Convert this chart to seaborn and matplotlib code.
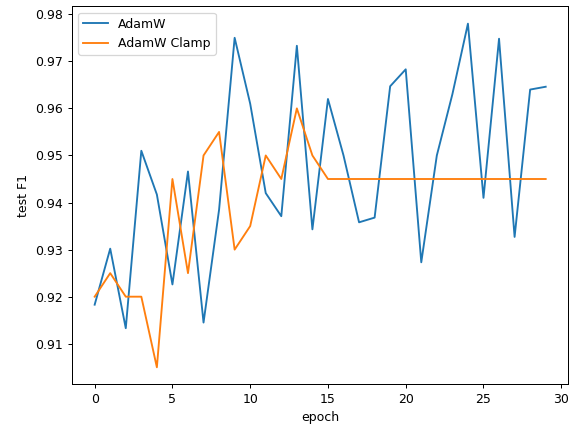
import numpy as np
import pandas as pd
import matplotlib
matplotlib.use("Agg")
import matplotlib.pyplot as plt
import seaborn as sns

# ---- data ----
epochs = list(range(30))
adamw = [0.9183, 0.9302, 0.9133, 0.9510, 0.9417, 0.9226, 0.9466, 0.9145, 0.9385, 0.9750,
         0.9610, 0.9420, 0.9371, 0.9733, 0.9343, 0.9620, 0.9500, 0.9358, 0.9368, 0.9647,
         0.9683, 0.9273, 0.9500, 0.9630, 0.9780, 0.9410, 0.9748, 0.9327, 0.9640, 0.9646]
adamw_clamp = [0.920, 0.925, 0.920, 0.920, 0.905, 0.945, 0.925, 0.950, 0.955, 0.930,
               0.935, 0.950, 0.945, 0.960, 0.950, 0.945, 0.945, 0.945, 0.945, 0.945,
               0.945, 0.945, 0.945, 0.945, 0.945, 0.945, 0.945, 0.945, 0.945, 0.945]

df = pd.DataFrame({
    "epoch": epochs * 2,
    "test F1": adamw + adamw_clamp,
    "optimizer": ["AdamW"] * 30 + ["AdamW Clamp"] * 30,
})

fig, ax = plt.subplots(figsize=(6.41, 4.8), dpi=90)
sns.lineplot(data=df, x="epoch", y="test F1", hue="optimizer",
             palette=["#1f77b4", "#ff7f0e"], ax=ax)
ax.legend(title=None, loc="upper left")
ax.set_xticks([0, 5, 10, 15, 20, 25, 30])
fig.subplots_adjust(left=0.125, right=0.985, top=0.985, bottom=0.11)

fig.savefig("out.png", dpi=90)
